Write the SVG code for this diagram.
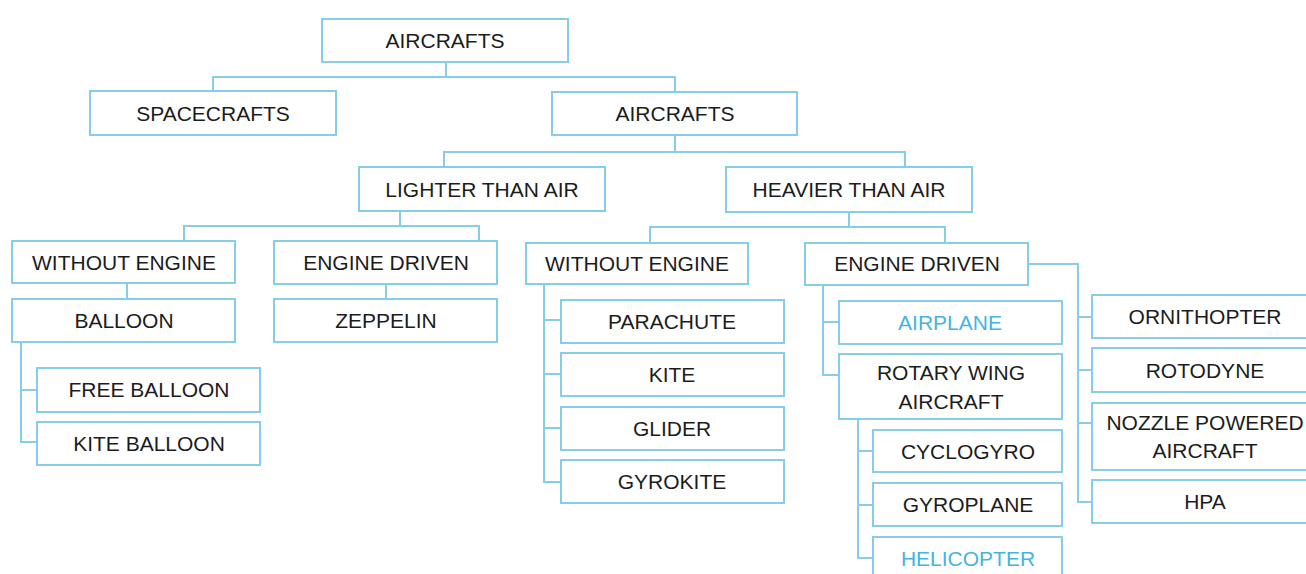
<svg xmlns="http://www.w3.org/2000/svg" width="1306" height="574" viewBox="0 0 1306 574">
<style>
.b{fill:#fff;stroke:#86cde9;stroke-width:2}
.c{fill:none;stroke:#86cde9;stroke-width:2}
text{font-family:"Liberation Sans",Arial,sans-serif;font-size:21px;fill:#1c1c1c;text-anchor:middle}
.hl{fill:#44b5e0}
</style>
<rect width="1306" height="574" fill="#fff"/>
<g id="connectors">
<path class="c" d="M446 62V77M213 91V77H675V92"/>
<path class="c" d="M675 135V152M444 167V152H905V167"/>
<path class="c" d="M400 211V226M184 241V226H479V241"/>
<path class="c" d="M127 283V299M386 284V299"/>
<path class="c" d="M21 342V442H37M21 390H37"/>
<path class="c" d="M849 212V227M650 243V227H945V243"/>
<path class="c" d="M544 284V482H561M544 320H561M544 374H561M544 428H561"/>
<path class="c" d="M823 285V375H839M823 322H839"/>
<path class="c" d="M858 419V558H873M858 451H873M858 505H873"/>
<path class="c" d="M1028 264H1078V502H1092M1078 317H1092M1078 370H1092M1078 423H1092"/>
</g>
<g id="n-aircrafts-root"><rect class="b" x="322" y="19" width="246" height="43"/><text x="445" y="48">AIRCRAFTS</text></g>
<g id="n-spacecrafts"><rect class="b" x="90" y="91" width="246" height="44"/><text x="213" y="121">SPACECRAFTS</text></g>
<g id="n-aircrafts"><rect class="b" x="552" y="92" width="245" height="43"/><text x="675" y="121">AIRCRAFTS</text></g>
<g id="n-lighter"><rect class="b" x="359" y="167" width="246" height="44"/><text x="482" y="197">LIGHTER THAN AIR</text></g>
<g id="n-heavier"><rect class="b" x="726" y="167" width="246" height="45"/><text x="849" y="197">HEAVIER THAN AIR</text></g>
<g id="n-without-engine-l"><rect class="b" x="12" y="241" width="223" height="42"/><text x="124" y="270">WITHOUT ENGINE</text></g>
<g id="n-engine-driven-l"><rect class="b" x="274" y="241" width="223" height="43"/><text x="386" y="270">ENGINE DRIVEN</text></g>
<g id="n-balloon"><rect class="b" x="12" y="299" width="223" height="43"/><text x="124" y="328">BALLOON</text></g>
<g id="n-zeppelin"><rect class="b" x="274" y="299" width="223" height="43"/><text x="386" y="328">ZEPPELIN</text></g>
<g id="n-free-balloon"><rect class="b" x="37" y="368" width="223" height="44"/><text x="149" y="397">FREE BALLOON</text></g>
<g id="n-kite-balloon"><rect class="b" x="37" y="422" width="223" height="43"/><text x="149" y="451">KITE BALLOON</text></g>
<g id="n-without-engine-r"><rect class="b" x="526" y="243" width="222" height="41"/><text x="637" y="271">WITHOUT ENGINE</text></g>
<g id="n-engine-driven-r"><rect class="b" x="805" y="243" width="223" height="42"/><text x="917" y="271">ENGINE DRIVEN</text></g>
<g id="n-parachute"><rect class="b" x="561" y="300" width="223" height="43"/><text x="672" y="329">PARACHUTE</text></g>
<g id="n-kite"><rect class="b" x="561" y="353" width="223" height="43"/><text x="672" y="382">KITE</text></g>
<g id="n-glider"><rect class="b" x="561" y="407" width="223" height="43"/><text x="672" y="436">GLIDER</text></g>
<g id="n-gyrokite"><rect class="b" x="561" y="460" width="223" height="43"/><text x="672" y="489">GYROKITE</text></g>
<g id="n-airplane"><rect class="b" x="839" y="301" width="223" height="43"/><text class="hl" x="950" y="330">AIRPLANE</text></g>
<g id="n-rotary"><rect class="b" x="839" y="354" width="223" height="65"/><text x="951" y="380">ROTARY WING</text><text x="951" y="409">AIRCRAFT</text></g>
<g id="n-cyclogyro"><rect class="b" x="873" y="430" width="189" height="42"/><text x="968" y="459">CYCLOGYRO</text></g>
<g id="n-gyroplane"><rect class="b" x="873" y="483" width="189" height="43"/><text x="968" y="512">GYROPLANE</text></g>
<g id="n-helicopter"><rect class="b" x="873" y="537" width="189" height="44"/><text class="hl" x="968" y="566">HELICOPTER</text></g>
<g id="n-ornithopter"><rect class="b" x="1092" y="295" width="226" height="43"/><text x="1205" y="324">ORNITHOPTER</text></g>
<g id="n-rotodyne"><rect class="b" x="1092" y="348" width="226" height="44"/><text x="1205" y="378">ROTODYNE</text></g>
<g id="n-nozzle"><rect class="b" x="1092" y="403" width="226" height="67"/><text x="1205" y="430">NOZZLE POWERED</text><text x="1205" y="458">AIRCRAFT</text></g>
<g id="n-hpa"><rect class="b" x="1092" y="480" width="226" height="43"/><text x="1205" y="509">HPA</text></g>
</svg>
